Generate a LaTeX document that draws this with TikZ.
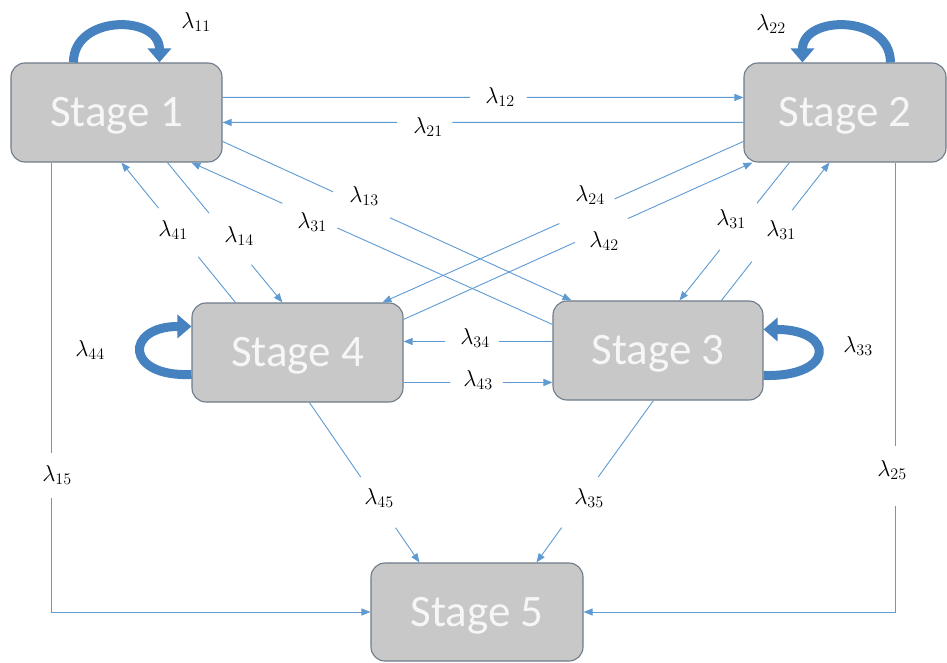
\RequirePackage{fix-cm}
\documentclass[tikz,border=0pt]{standalone}
\usepackage{fontspec}
\newfontfamily\stagefont{Carlito}
\usetikzlibrary{arrows.meta,calc}
\definecolor{connblue}{RGB}{95,155,210}
\definecolor{loopblue}{RGB}{70,130,192}
\definecolor{boxfill}{RGB}{200,200,200}
\definecolor{boxedge}{RGB}{110,124,138}
\definecolor{stagetext}{RGB}{246,246,246}
\newcommand\gapdraw[4]{\draw[conn] (#1) -- ($(#1)!#3!(#2)$) ($(#1)!#4!(#2)$) -- (#2);}
\begin{document}
\begin{tikzpicture}[x=1pt,y=-1pt,
 stagebox/.style={draw=boxedge,line width=1.1pt,fill=boxfill,rounded corners=14pt,inner sep=0pt,text=stagetext,text height=28pt,text depth=0pt,font=\stagefont\fontsize{45}{50}\selectfont},
 conn/.style={draw=connblue,line width=0.9pt,-{Triangle[length=9pt,width=7pt]}},
 selfloop/.style={draw=loopblue,line width=9pt,-{Triangle[length=14pt,width=23pt]}},
 lab/.style={inner sep=0pt,font=\fontsize{23}{27}\selectfont}]
\useasboundingbox (0,0) rectangle (947,663);
\fill[white] (0,0) rectangle (947,663);

\node[stagebox,minimum width=211pt,minimum height=99pt] (s1) at (116.5,112.5) {Stage 1};
\node[stagebox,minimum width=202pt,minimum height=99pt] (s2) at (845,112.5) {Stage 2};
\node[stagebox,minimum width=210pt,minimum height=99pt] (s3) at (658,350.5) {Stage 3};
\node[stagebox,minimum width=211pt,minimum height=99pt] (s4) at (297.5,352.5) {Stage 4};
\node[stagebox,minimum width=212pt,minimum height=98pt] (s5) at (477,612) {Stage 5};

% connector end points on the boxes
\coordinate (a12) at ($(s1.north east)+(0,35)$);
\coordinate (b12) at ($(s2.north west)+(0,35)$);
\coordinate (a21) at ($(s2.north west)+(0,60)$);
\coordinate (b21) at ($(s1.north east)+(0,60)$);
\coordinate (a34) at ($(s3.north west)+(0,41)$);
\coordinate (b34) at ($(s4.north east)+(0,39)$);
\coordinate (a43) at ($(s4.north east)+(0,80)$);
\coordinate (b43) at ($(s3.north west)+(0,82)$);
\coordinate (a15) at ($(s1.south west)+(41,0)$);
\coordinate (a25) at ($(s2.south west)+(152,0)$);
\coordinate (a41) at ($(s4.north west)+(44,0)$);
\coordinate (b41) at ($(s1.south west)+(111,0)$);
\coordinate (a14) at ($(s1.south west)+(157,0)$);
\coordinate (b14) at ($(s4.north west)+(91,0)$);
\coordinate (a31a) at ($(s3.north west)+(0,24)$);
\coordinate (b31a) at ($(s1.south west)+(181,0)$);
\coordinate (a13) at ($(s1.north east)+(0,79)$);
\coordinate (b13) at ($(s3.north west)+(19,0)$);
\coordinate (a24) at ($(s2.north west)+(0,79)$);
\coordinate (b24) at ($(s4.north west)+(191,0)$);
\coordinate (a42) at ($(s4.north east)+(0,17)$);
\coordinate (b42) at ($(s2.south west)+(9,0)$);
\coordinate (a31b) at ($(s2.south west)+(46,0)$);
\coordinate (b31b) at ($(s3.north west)+(127,0)$);
\coordinate (a31c) at ($(s3.north west)+(169,0)$);
\coordinate (b31c) at ($(s2.south west)+(86,0)$);
\coordinate (a45) at ($(s4.south west)+(118,0)$);
\coordinate (b45) at ($(s5.north west)+(49,0)$);
\coordinate (a35) at ($(s3.south west)+(101,0)$);
\coordinate (b35) at ($(s5.north west)+(166,0)$);

% connectors with gaps for labels
\gapdraw{a12}{b12}{0.475}{0.584}
\gapdraw{a21}{b21}{0.559}{0.665}
\gapdraw{a34}{b34}{0.36}{0.72}
\gapdraw{a43}{b43}{0.313}{0.667}
\gapdraw{a41}{b41}{0.326}{0.674}
\gapdraw{a14}{b14}{0.362}{0.730}
\gapdraw{a31a}{b31a}{0.596}{0.748}
\gapdraw{a13}{b13}{0.317}{0.48}
\gapdraw{a24}{b24}{0.357}{0.51}
\gapdraw{a42}{b42}{0.491}{0.643}
\gapdraw{a31b}{b31b}{0.295}{0.633}
\gapdraw{a31c}{b31c}{0.281}{0.655}
\gapdraw{a45}{b45}{0.466}{0.783}
\gapdraw{a35}{b35}{0.472}{0.785}
\draw[conn] (a15) -- ($(a15)+(0,290)$) ($(a15)+(0,335)$) -- (a15 |- s5.west) -- (s5.west);
\draw[conn] (a25) -- ($(a25)+(0,283)$) ($(a25)+(0,343)$) -- (a25 |- s5.east) -- (s5.east);

% self loops
\draw[selfloop] ($(s1.north west)+(63,0)$) .. controls +(0,-48) and +(0,-48) .. ($(s1.north west)+(149,0)$);
\draw[selfloop] ($(s2.north west)+(147,0)$) .. controls +(0,-48) and +(0,-48) .. ($(s2.north west)+(59,0)$);
\draw[selfloop] ($(s4.north west)+(0,72)$) .. controls +(-67,3) and +(-67,0) .. ($(s4.north west)+(0,24)$);
\draw[selfloop] ($(s3.north east)+(0,75)$) .. controls +(72,2) and +(72,0) .. ($(s3.north east)+(0,29)$);

% labels
\node[lab] (l11) at (196,22) {$\lambda_{11}$};
\node[lab] (l22) at (771,24) {$\lambda_{22}$};
\node[lab] (l12) at (500,97) {$\lambda_{12}$};
\node[lab] (l21) at (428,127) {$\lambda_{21}$};
\node[lab] (l41) at (173,230) {$\lambda_{41}$};
\node[lab] (l14) at (239,236) {$\lambda_{14}$};
\node[lab] (l31a) at (312,222) {$\lambda_{31}$};
\node[lab] (l13) at (364,196) {$\lambda_{13}$};
\node[lab] (l24) at (590,195) {$\lambda_{24}$};
\node[lab] (l42) at (604,241) {$\lambda_{42}$};
\node[lab] (l31b) at (731,219) {$\lambda_{31}$};
\node[lab] (l31c) at (781,230) {$\lambda_{31}$};
\node[lab] (l34) at (475,338) {$\lambda_{34}$};
\node[lab] (l43) at (478,380) {$\lambda_{43}$};
\node[lab] (l44) at (90,350) {$\lambda_{44}$};
\node[lab] (l33) at (858,346) {$\lambda_{33}$};
\node[lab] (l15) at (57,475) {$\lambda_{15}$};
\node[lab] (l25) at (892,470) {$\lambda_{25}$};
\node[lab] (l45) at (379,498) {$\lambda_{45}$};
\node[lab] (l35) at (589,498) {$\lambda_{35}$};
\end{tikzpicture}
\end{document}
